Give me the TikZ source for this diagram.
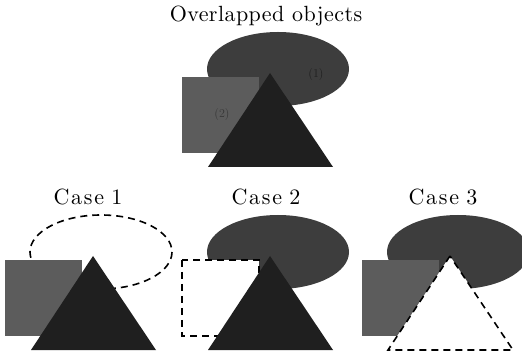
\documentclass[tikz,border=0pt]{standalone}
\usepackage{fontspec}
\newfontfamily\titlefont{lmroman10-regular.otf}[LetterSpace=2]
\newfontfamily\casefont{lmroman10-regular.otf}[LetterSpace=8]
\begin{document}
\begin{tikzpicture}[x=1pt,y=-1pt,
  ovalfill/.style={fill=black!76},
  boxfill/.style={fill=black!64},
  trifill/.style={fill=black!88},
  outline/.style={draw=black,line width=1.6pt,dash pattern=on 7pt off 5pt},
  heading/.style={font=\titlefont\fontsize{22}{22}\selectfont},
  caption/.style={font=\casefont\fontsize{22}{22}\selectfont},
  faint/.style={font=\fontsize{12}{12}\selectfont}]
\useasboundingbox (0,0) rectangle (522,355);

% shape outlines relative to the triangle apex
\newcommand\ovalpath[1]{(#1) ++(8,-4) ellipse [x radius=71,y radius=37]}
\newcommand\boxpath[1]{(#1) ++(-88,4) rectangle ++(77,76)}
\newcommand\tripath[1]{(#1) -- ++(-62,94) -- ++(125,0) -- cycle}

% ---- overlapped objects
\node[heading] (title) at (266,16) {Overlapped objects};
\coordinate (a0) at (270,73);
\fill[ovalfill] \ovalpath{a0};
\node[faint,text=black!88] (n1) at (316,75) {(1)};
\fill[boxfill] \boxpath{a0};
\node[faint,text=black!78] (n2) at (222,115) {(2)};
\fill[trifill] \tripath{a0};

% ---- case 1: ellipse removed
\node[caption] (c1) at (88,197) {Case\,\,1};
\coordinate (a1) at (93,256);
\draw[outline] \ovalpath{a1};
\fill[boxfill] \boxpath{a1};
\fill[trifill] \tripath{a1};

% ---- case 2: square removed
\node[caption] (c2) at (266,197) {Case\,\,2};
\coordinate (a2) at (270,256);
\fill[ovalfill] \ovalpath{a2};
\fill[white] \boxpath{a2};
\draw[outline] \boxpath{a2};
\fill[trifill] \tripath{a2};

% ---- case 3: triangle removed
\node[caption] (c3) at (443,197) {Case\,\,3};
\coordinate (a3) at (450,256);
\fill[ovalfill] \ovalpath{a3};
\fill[boxfill] \boxpath{a3};
\fill[white] \tripath{a3};
\draw[outline] \tripath{a3};
\end{tikzpicture}
\end{document}
